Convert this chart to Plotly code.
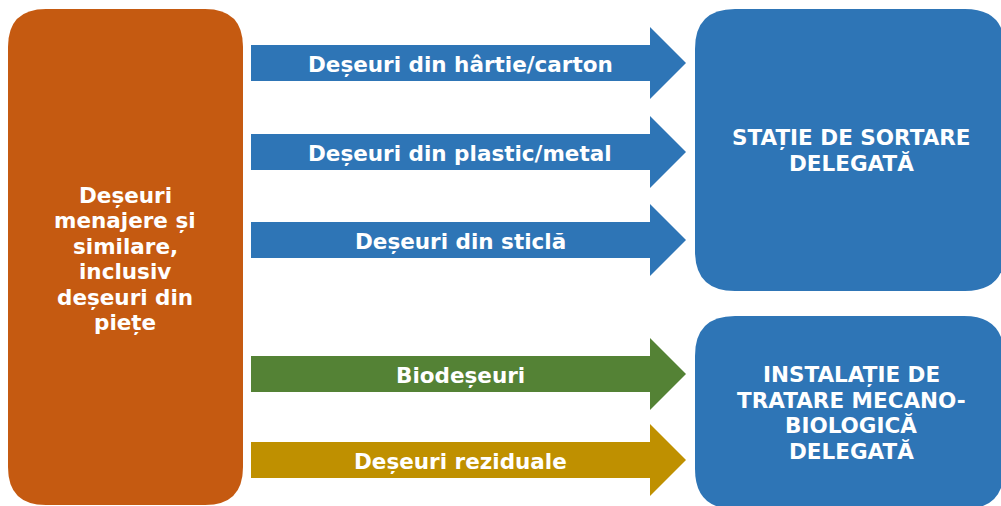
import plotly.graph_objects as go

# --- content ---
source_label = "Deșeuri<br>menajere și<br>similare,<br>inclusiv<br>deșeuri din<br>piețe"
stream_labels = ["Deșeuri din hârtie/carton", "Deșeuri din plastic/metal",
                 "Deșeuri din sticlă", "Biodeșeuri", "Deșeuri reziduale"]
stream_colors = ["#2E75B6", "#2E75B6", "#2E75B6", "#548235", "#BF9000"]
target_labels = ["STAȚIE DE SORTARE<br>DELEGATĂ",
                 "INSTALAȚIE DE<br>TRATARE MECANO-<br>BIOLOGICĂ<br>DELEGATĂ"]
source_color = "#C55A11"
target_color = "#2E75B6"

# --- geometry (screen pixel space) ---
W, H = 1001, 506
source_box = (8, 9, 243, 505)
target_boxes = [(695, 9, 1005, 291), (695, 316, 1004, 509)]
arrow_centers = [63, 152, 240, 374, 460]
arrow_x0, arrow_xh, arrow_tip = 251, 650, 686
body_half, head_half = 18, 36
radius = 38
line_gap = 25.5


def rrect(x0, y0, x1, y1, r):
    return (f"M {x0+r},{y0} L {x1-r},{y0} Q {x1},{y0} {x1},{y0+r} "
            f"L {x1},{y1-r} Q {x1},{y1} {x1-r},{y1} L {x0+r},{y1} "
            f"Q {x0},{y1} {x0},{y1-r} L {x0},{y0+r} Q {x0},{y0} {x0+r},{y0} Z")


def arrow(cy):
    return (f"M {arrow_x0},{cy-body_half} L {arrow_xh},{cy-body_half} "
            f"L {arrow_xh},{cy-head_half} L {arrow_tip},{cy} "
            f"L {arrow_xh},{cy+head_half} L {arrow_xh},{cy+body_half} "
            f"L {arrow_x0},{cy+body_half} Z")


font = dict(family="DejaVu Sans", size=21.5, color="white", weight="bold")
shapes = []
annotations = []


def add_lines(x, cy, label, gap):
    lines = label.split("<br>")
    n = len(lines)
    for i, ln in enumerate(lines):
        y = cy + (i - (n - 1) / 2) * gap
        annotations.append(dict(x=x, y=y, text=ln, showarrow=False, font=font,
                                xanchor="center", yanchor="middle"))


shapes.append(dict(type="path", path=rrect(*source_box, radius),
                   fillcolor=source_color, line=dict(width=0), layer="below"))
add_lines(125, 259, source_label, line_gap)

for cy, lab, col in zip(arrow_centers, stream_labels, stream_colors):
    shapes.append(dict(type="path", path=arrow(cy), fillcolor=col,
                       line=dict(width=0), layer="below"))
    add_lines(460, cy + 1, lab, line_gap)

target_text_y = [151, 413]
for (x0, y0, x1, y1), lab, ty in zip(target_boxes, target_labels, target_text_y):
    shapes.append(dict(type="path", path=rrect(x0, y0, x1, y1, radius + 2),
                       fillcolor=target_color, line=dict(width=0), layer="below"))
    add_lines(851, ty, lab, line_gap)

fig = go.Figure()
fig.update_layout(
    width=W, height=H,
    margin=dict(l=0, r=0, t=0, b=0),
    paper_bgcolor="white", plot_bgcolor="white",
    xaxis=dict(range=[0, W], visible=False, fixedrange=True),
    yaxis=dict(range=[H, 0], visible=False, fixedrange=True),
    shapes=shapes, annotations=annotations, showlegend=False,
)

fig.write_html(
    "out.html",
    config={"displayModeBar": False},
    post_script="document.body.style.margin='0';document.body.style.overflow='hidden';",
)
